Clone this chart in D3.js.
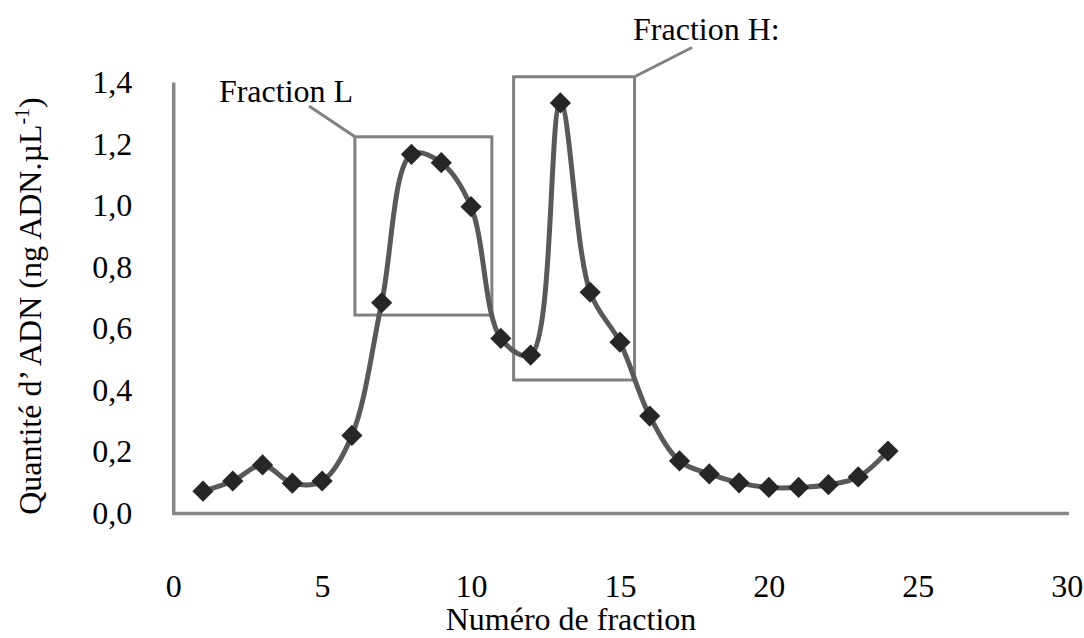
<!DOCTYPE html>
<html>
<head>
<meta charset="utf-8">
<script src="https://cdn.jsdelivr.net/npm/d3@7"></script>
<style>
  html, body { margin: 0; padding: 0; background: #fff; }
  svg { display: block; font-family: "Liberation Serif", "Times New Roman", serif; }
</style>
</head>
<body>
<svg id="chart" width="1084" height="638"></svg>
<script>
// ---- data ----
const fractions = [1,2,3,4,5,6,7,8,9,10,11,12,13,14,15,16,17,18,19,20,21,22,23,24];
const dnaQuantity = [0.071,0.104,0.156,0.097,0.104,0.252,0.683,1.165,1.138,0.995,0.567,0.513,
                     1.332,0.717,0.555,0.315,0.169,0.127,0.098,0.083,0.083,0.092,0.117,0.201];
const xTicks = [0,5,10,15,20,25,30];
const xTickLabels = ["0","5","10","15","20","25","30"];
const yTicks = [0,0.2,0.4,0.6,0.8,1.0,1.2,1.4];
const yTickLabels = ["0,0","0,2","0,4","0,6","0,8","1,0","1,2","1,4"];
// annotation boxes in data units
const boxNames = ["Fraction L", "Fraction H:"];
const boxX0 = [6.1, 11.43];
const boxX1 = [10.7, 15.49];
const boxY0 = [0.643, 0.432];
const boxY1 = [1.222, 1.417];
const leaderX = [4.56, 17.42];
const leaderY = [1.322, 1.512];
const labelX = [6.04, 15.44];
const labelY = [1.336, 1.538];

// ---- scales ----
const svg = d3.select("#chart");
const x = d3.scaleLinear().domain([0, 30]).range([173.2, 1066.7]);
const y = d3.scaleLinear().domain([0, 1.4]).range([513, 82]);

const axisColor = "#878787";
const fontSize = 32;

// y axis
const gy = svg.append("g").attr("transform", `translate(${x(0)},0)`)
  .call(d3.axisLeft(y).tickValues(yTicks).tickSize(0).tickSizeOuter(0).tickPadding(41)
        .tickFormat((d, i) => yTickLabels[i]));
gy.select(".domain").attr("stroke", axisColor).attr("stroke-width", 3.5);
gy.selectAll("text").attr("font-family", "Liberation Serif").attr("font-size", fontSize)
  .attr("fill", "#000").attr("dy", "0.33em");

// x axis
const gx = svg.append("g").attr("transform", `translate(0,${y(0)})`)
  .call(d3.axisBottom(x).tickValues(xTicks).tickSize(0).tickSizeOuter(0)
        .tickFormat((d, i) => xTickLabels[i]));
gx.select(".domain").attr("stroke", axisColor).attr("stroke-width", 3.5).attr("stroke-linecap", "square");
gx.selectAll("text").attr("font-family", "Liberation Serif").attr("font-size", fontSize)
  .attr("fill", "#000").attr("y", 84).attr("dy", 0);

// axis titles
svg.append("text").attr("x", 571).attr("y", 630).attr("text-anchor", "middle")
  .attr("font-size", fontSize).text("Numéro de fraction");

const yt = svg.append("text").attr("transform", "translate(41,306) rotate(-90)")
  .attr("text-anchor", "middle").attr("font-size", fontSize);
yt.append("tspan").text("Quantité d’ ADN (ng ADN.µL");
yt.append("tspan").attr("font-size", 20).attr("dy", -12).text("-1");
yt.append("tspan").attr("dy", 12).text(")");

// annotation boxes
const boxColor = "#808080";
boxNames.forEach((name, i) => {
  svg.append("rect")
    .attr("x", x(boxX0[i])).attr("y", y(boxY1[i]))
    .attr("width", x(boxX1[i]) - x(boxX0[i])).attr("height", y(boxY0[i]) - y(boxY1[i]))
    .attr("fill", "none").attr("stroke", boxColor).attr("stroke-width", 3);
  const cornerX = i === 0 ? x(boxX0[i]) : x(boxX1[i]);
  svg.append("line")
    .attr("x1", cornerX).attr("y1", y(boxY1[i]))
    .attr("x2", x(leaderX[i])).attr("y2", y(leaderY[i]))
    .attr("stroke", boxColor).attr("stroke-width", 3);
  svg.append("text")
    .attr("x", x(labelX[i])).attr("y", y(labelY[i]))
    .attr("text-anchor", i === 0 ? "end" : "start")
    .attr("font-size", fontSize).text(name);
});

// line
const pts = fractions.map((f, i) => [f, dnaQuantity[i]]);
const line = d3.line().x(d => x(d[0])).y(d => y(d[1])).curve(d3.curveCatmullRom.alpha(0.5));
svg.append("path").datum(pts).attr("d", line)
  .attr("fill", "none").attr("stroke", "#595959").attr("stroke-width", 5)
  .attr("stroke-linejoin", "round");

// markers
const sym = d3.symbol().type(d3.symbolSquare).size(225);
svg.append("g").selectAll("path").data(pts).join("path")
  .attr("d", sym)
  .attr("transform", d => `translate(${x(d[0])},${y(d[1])}) rotate(45)`)
  .attr("fill", "#262626");
</script>
</body>
</html>
